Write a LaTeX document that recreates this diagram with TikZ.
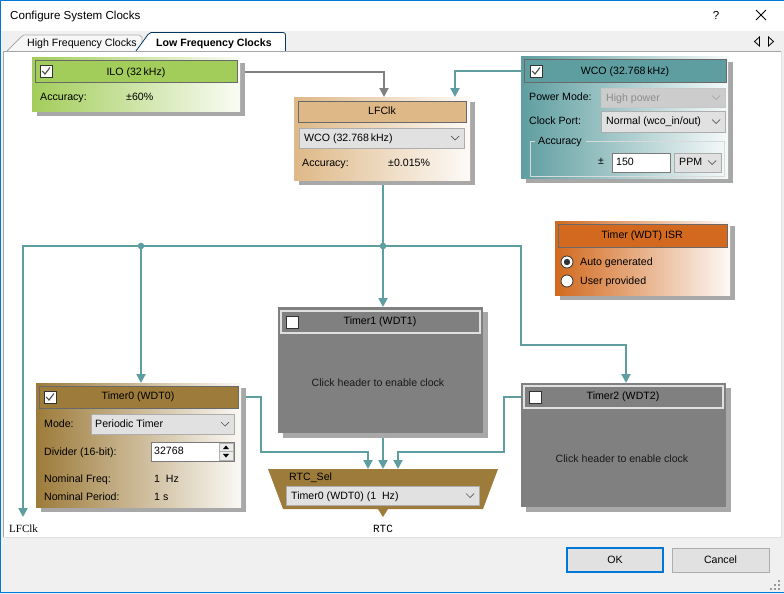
\documentclass[tikz,border=0pt]{standalone}
\usepackage{fontspec}
\setmainfont{Liberation Sans}
\newfontfamily\serifui{Liberation Serif}
\newfontfamily\monoui{Liberation Mono}
\usetikzlibrary{arrows.meta,calc}
\pgfdeclarelayer{bg}
\pgfdeclarelayer{conn}
\pgfdeclarelayer{shad}
\pgfsetlayers{bg,conn,shad,main}
\definecolor{winblue}{RGB}{0,120,215}
\definecolor{dlgbg}{RGB}{240,240,240}
\definecolor{teal2}{RGB}{95,158,160}
\definecolor{ilog}{RGB}{162,205,90}
\definecolor{burly}{RGB}{222,184,135}
\definecolor{choc}{RGB}{210,105,30}
\definecolor{brownh}{RGB}{157,123,58}
\definecolor{offg}{RGB}{128,128,128}
\definecolor{shadowc}{RGB}{168,168,168}
\definecolor{combof}{RGB}{225,225,225}
\definecolor{combod}{RGB}{173,173,173}
\definecolor{hdrline}{RGB}{105,105,105}
\definecolor{editd}{RGB}{122,122,122}
\definecolor{disf}{RGB}{204,204,204}
\definecolor{distext}{RGB}{140,140,140}
\newcommand\shadowof[1]{\begin{pgfonlayer}{shad}\fill[shadowc] ($(#1.north west)+(5,5)$) rectangle ($(#1.south east)+(5,5)$);\end{pgfonlayer}}
\newcommand\chevron[2][black!65]{\draw[#1, line width=0.7pt] ($(#2.east)+(-13,-2)$) -- ($(#2.east)+(-9,2)$) -- ($(#2.east)+(-5,-2)$);}
\newcommand\checkin[1]{\draw[black!70, line width=1.1pt] ($(#1.center)+(-3.8,0)$) -- ($(#1.center)+(-1,3)$) -- ($(#1.center)+(4,-3.5)$);}
\tikzset{
  uif/.style={font=\fontsize{10.6}{12}\selectfont},
  lbl/.style={uif, inner sep=0pt, anchor=west, text height=7.6pt, text depth=0pt},
  ctr/.style={lbl, anchor=center},
  panel/.style={anchor=north west, inner sep=0pt, outer sep=0pt, draw=none},
  hdr/.style={panel, draw=hdrline, line width=1pt},
  offhdr/.style={panel, fill=offg, draw=black!12, line width=1.2pt},
  tline/.style={draw=teal2, line width=2pt},
  gline/.style={draw=offg, line width=2pt},
  arr/.style={-{Triangle[width=9pt,length=9pt]}},
  combo/.style={panel, fill=combof, draw=combod, line width=0.8pt},
  editbox/.style={panel, fill=white, draw=editd, line width=0.8pt},
  chk/.style={panel, fill=white, draw=black!80, line width=0.8pt, minimum width=12pt, minimum height=12pt},
  radio/.style={circle, draw=black!80, fill=white, minimum size=12pt, inner sep=0pt, line width=0.8pt},
}
\begin{document}
\begin{tikzpicture}[x=1pt,y=-1pt]
\useasboundingbox (0,0) rectangle (784,594);
% ---------- window chrome ----------
\begin{pgfonlayer}{bg}
\fill[dlgbg] (0,0) rectangle (784,594);
\fill[white] (0,0) rectangle (784,31);
\draw[winblue, line width=1pt] (0,0.5) -- (784,0.5);
\draw[winblue, line width=1pt] (0.5,0) -- (0.5,592);
\draw[winblue, line width=1pt] (0,592.5) -- (784,592.5);
\fill[white] (3,51) rectangle (781,537);
\draw[black!35, line width=0.8pt] (3,537) -- (3,51) -- (781,51);
\draw[black!12, line width=0.8pt] (3,537) -- (781,537) -- (781,51);
% tabs
\draw[black!32, fill=black!3, line width=0.8pt] (7,51) -- (21,37) .. controls (22,35.5) .. (24,35) -- (139,35) .. controls (141,35.5) .. (142,37) -- (142,51);
\draw[black!55!winblue, fill=white, line width=0.8pt] (136,51) -- (148,34.5) .. controls (149,33) .. (151,32.5) -- (283,32.5) .. controls (285,33) .. (285.5,35) -- (285.5,51);
\end{pgfonlayer}
\node[lbl, font=\fontsize{11.6}{13}\selectfont] (title) at (10,16) {Configure System Clocks};
\node[ctr, font=\fontsize{11.6}{13}\selectfont] (help) at (716,16) {?};
\coordinate (closex) at (761,15);
\draw[black, line width=0.9pt] ($(closex)+(-5,-5)$) -- ($(closex)+(5,5)$) ($(closex)+(5,-5)$) -- ($(closex)+(-5,5)$);
\node[lbl] (tabhf) at (27,43) {High Frequency Clocks};
\node[lbl, font=\fontsize{10.6}{12}\selectfont\bfseries] (tablf) at (156,43) {Low Frequency Clocks};
\coordinate (tabl) at (757,41.5);
\coordinate (tabr) at (771,41.5);
\draw[black, line width=0.8pt] ($(tabl)+(2.5,-4.5)$) -- ($(tabl)+(-2.5,0)$) -- ($(tabl)+(2.5,4.5)$) -- cycle;
\draw[black, line width=0.8pt] ($(tabr)+(-2.5,-4.5)$) -- ($(tabr)+(2.5,0)$) -- ($(tabr)+(-2.5,4.5)$) -- cycle;
% buttons
\node[panel, fill=combof, draw=winblue, line width=2pt, minimum width=96pt, minimum height=24pt] (ok) at (567,548) {};
\node[ctr] (okt) at (ok.center) {OK};
\node[panel, fill=combof, draw=combod, line width=1pt, minimum width=97pt, minimum height=24pt] (cancel) at (672,548) {};
\node[ctr] (cant) at (cancel.center) {Cancel};
\foreach \gx/\gy in {779/581,779/585,775/585,779/589,775/589,771/589}{\fill[black!40] (\gx-0.8,\gy-0.8) rectangle (\gx+0.8,\gy+0.8);}

% ---------- ILO ----------
\node[panel, minimum width=208pt, minimum height=53pt, left color=ilog, right color=ilog!6] (ilo) at (32,58) {};
\shadowof{ilo}
\node[hdr, fill=ilog, minimum width=202pt, minimum height=21pt] (iloh) at (35,61) {};
\node[chk] (ilock) at (40,65) {}; \checkin{ilock}
\node[ctr] (ilot) at (136,71.5) {ILO (32\,kHz)};
\node[lbl] (ilo1) at (40,97) {Accuracy:};
\node[lbl] (ilo2) at (126,97) {±60\%};

% ---------- LFClk ----------
\node[panel, minimum width=176pt, minimum height=83pt, left color=burly, right color=burly!6] (lfc) at (294,97) {};
\shadowof{lfc}
\node[hdr, fill=burly, minimum width=168pt, minimum height=21pt] (lfch) at (298,101) {};
\node[ctr] (lfct) at (382,111) {LFClk};
\node[combo, minimum width=165pt, minimum height=20pt] (lfccb) at (299,128) {};
\node[lbl] (lfccbt) at (304,138) {WCO (32.768\,kHz)};
\chevron{lfccb}
\node[lbl] (lfc1) at (302,163) {Accuracy:};
\node[lbl] (lfc2) at (388,163) {±0.015\%};

% ---------- WCO ----------
\node[panel, minimum width=207pt, minimum height=121pt, left color=teal2, right color=teal2!6] (wco) at (521,57) {};
\shadowof{wco}
\node[hdr, fill=teal2, minimum width=202pt, minimum height=22pt] (wcoh) at (524,60) {};
\node[chk] (wcock) at (530,65) {}; \checkin{wcock}
\node[ctr] (wcot) at (625,71) {WCO (32.768\,kHz)};
\node[lbl] (wco1) at (529,97) {Power Mode:};
\node[panel, fill=disf, draw=black!22, line width=0.8pt, minimum width=124pt, minimum height=19pt] (wcopm) at (601,88) {};
\node[lbl, text=distext] (wcopmt) at (606,98) {High power};
\chevron[black!35]{wcopm}
\node[lbl] (wco2) at (529,121) {Clock Port:};
\node[combo, minimum width=124pt, minimum height=21pt] (wcocp) at (601,111) {};
\node[lbl] (wcocpt) at (606,121) {Normal (wco\_in/out)};
\chevron{wcocp}
\draw[white!85!black, line width=0.8pt] (535,141) -- (530,141) -- (530,176) -- (724,176) -- (724,141) -- (586,141);
\node[lbl] (wcoacc) at (538,141) {Accuracy};
\node[lbl] (wcopm2) at (598,161) {±};
\node[editbox, minimum width=58pt, minimum height=19pt] (wcoval) at (612,153) {};
\node[lbl] (wcovalt) at (616,162) {150};
\node[combo, minimum width=47pt, minimum height=19pt] (wcoppm) at (674,153) {};
\node[lbl] (wcoppmt) at (679,162) {PPM};
\chevron{wcoppm}

% ---------- Timer (WDT) ISR ----------
\node[panel, minimum width=175pt, minimum height=74pt, left color=choc, right color=choc!4] (isr) at (555,221) {};
\shadowof{isr}
\node[hdr, fill=choc, minimum width=169pt, minimum height=23pt] (isrh) at (558,224) {};
\node[ctr] (isrt) at (642,234.5) {Timer (WDT) ISR};
\node[radio] (rad1) at (567,262) {};
\fill[black!80] (rad1.center) circle (3.2pt);
\node[lbl] (rad1t) at (580,262) {Auto generated};
\node[radio] (rad2) at (567,281) {};
\node[lbl] (rad2t) at (580,281) {User provided};

% ---------- Timer1 ----------
\node[panel, fill=offg, minimum width=205pt, minimum height=126pt] (t1) at (278,307) {};
\shadowof{t1}
\node[offhdr, minimum width=199pt, minimum height=22pt] (t1h) at (281,311) {};
\node[chk] (t1ck) at (286,316) {};
\node[ctr] (t1t) at (380,321) {Timer1 (WDT1)};
\node[ctr, text=black!90] (t1m) at (378,383) {Click header to enable clock};

% ---------- Timer0 ----------
\node[panel, minimum width=205pt, minimum height=124pt, left color=brownh, right color=brownh!5] (t0) at (36,383) {};
\shadowof{t0}
\node[hdr, fill=brownh, minimum width=199pt, minimum height=22pt] (t0h) at (39,386) {};
\node[chk] (t0ck) at (44,391) {}; \checkin{t0ck}
\node[ctr] (t0t) at (138,396) {Timer0 (WDT0)};
\node[lbl] (t0a) at (44,424) {Mode:};
\node[combo, minimum width=143pt, minimum height=20pt] (t0cb) at (91,414) {};
\node[lbl] (t0cbt) at (95,424) {Periodic Timer};
\chevron{t0cb}
\node[lbl] (t0b) at (44,452) {Divider (16-bit):};
\node[editbox, minimum width=83pt, minimum height=19pt] (t0div) at (151,442) {};
\node[lbl] (t0divt) at (154,451) {32768};
\node[panel, fill=black!8, draw=black!30, line width=0.5pt, minimum width=14pt, minimum height=8.5pt] (spu) at (219,443) {};
\node[panel, fill=black!8, draw=black!30, line width=0.5pt, minimum width=14pt, minimum height=8.5pt] (spd) at (219,451.5) {};
\fill[black] ($(spu.center)+(-3,1.8)$) -- ($(spu.center)+(3,1.8)$) -- ($(spu.center)+(0,-1.8)$) -- cycle;
\fill[black] ($(spd.center)+(-3,-1.8)$) -- ($(spd.center)+(3,-1.8)$) -- ($(spd.center)+(0,1.8)$) -- cycle;
\node[lbl] (t0c) at (44,479) {Nominal Freq:};
\node[lbl] (t0cv) at (154,479) {1\ \ Hz};
\node[lbl] (t0d) at (44,497) {Nominal Period:};
\node[lbl] (t0dv) at (154,497) {1 s};

% ---------- Timer2 ----------
\node[panel, fill=offg, minimum width=205pt, minimum height=124pt] (t2) at (521,383) {};
\shadowof{t2}
\node[offhdr, minimum width=199pt, minimum height=22pt] (t2h) at (524,386) {};
\node[chk] (t2ck) at (529,391) {};
\node[ctr] (t2t) at (623,396) {Timer2 (WDT2)};
\node[ctr, text=black!90] (t2m) at (622,459) {Click header to enable clock};

% ---------- RTC_Sel ----------
\coordinate (rtcA) at (368,469);
\coordinate (rtcB) at (383,469);
\coordinate (rtcC) at (398,469);
\fill[brownh] (268,469) -- (498,469) -- (483,509) -- (388,509) -- (383,517) -- (378,509) -- (283,509) -- cycle;
\node[lbl] (rtcl) at (289,477) {RTC\_Sel};
\node[combo, minimum width=193pt, minimum height=19pt] (rtccb) at (286,486) {};
\node[lbl] (rtccbt) at (291,496) {Timer0 (WDT0) (1\ \ Hz)};
\chevron{rtccb}
\node[inner sep=0pt, font=\monoui\fontsize{11}{12}\selectfont] (rtcout) at (383,529) {RTC};
\node[inner sep=0pt, anchor=west, font=\serifui\fontsize{11}{12}\selectfont] (lfcout) at (9,529) {LFClk};

% ---------- connectors ----------
\coordinate (lfcA) at (384,97);
\coordinate (lfcB) at (455,97);
\coordinate (J1) at (141,246);
\coordinate (J2) at (383,246);
\coordinate (Lend) at (23,517);
\coordinate (R1) at (521,246);
\coordinate (R2) at (521,345);
\coordinate (t2in) at (626,383);
\coordinate (c01) at (261,452);
\coordinate (c21) at (504,452);
\begin{pgfonlayer}{conn}
\draw[gline,arr] (ilo.east |- iloh.center) -| (lfcA);
\draw[tline,arr] (wco.west |- wcoh.center) -| (lfcB);
\draw[tline] (lfc.south -| J2) -- (J2);
\draw[tline,arr] (J2) -- (t1.north -| J2);
\draw[tline,arr] (J2) -- (J1) -| (Lend);
\draw[tline,arr] (J1) -- (t0.north -| J1);
\draw[tline,arr] (J2) -- (R1) -- (R2) -| (t2in);
\fill[teal2] (J1) circle (3.3pt);
\fill[teal2] (J2) circle (3.3pt);
\draw[tline,arr] (t0.east |- t0h.center) -| (c01) -| (rtcA);
\draw[tline,arr] (t1.south -| rtcB) -- (rtcB);
\draw[tline,arr] (t2.west |- t2h.center) -| (c21) -| (rtcC);
\end{pgfonlayer}
\end{tikzpicture}
\end{document}
